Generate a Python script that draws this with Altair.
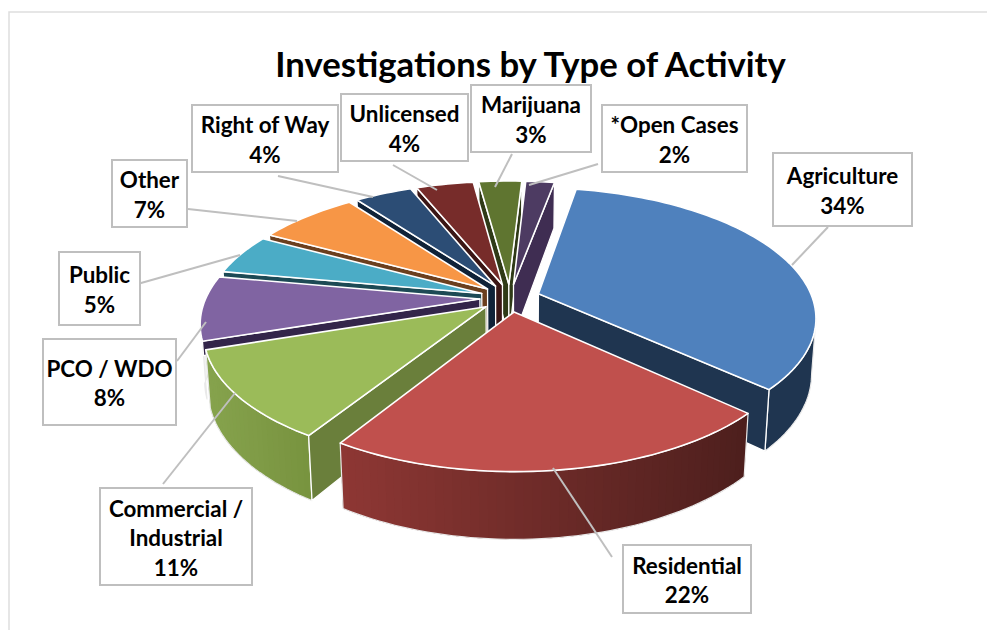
import math
import altair as alt

# Share of investigations per activity, clockwise from the first slice
categories = ["Agriculture", "Residential", "Commercial / Industrial", "PCO / WDO", "Public",
              "Other", "Right of Way", "Unlicensed", "Marijuana", "*Open Cases"]
shares = [34, 22, 11, 8, 5, 7, 4, 4, 3, 2]

top_colors = ["#4f81bd", "#c0504d", "#9bbb59", "#8064a2", "#4bacc6",
              "#f79646", "#2c4d75", "#772c2a", "#5f7530", "#4d3b62"]
cut_colors = ["#1f3550", "#4d1f1d", "#6a7f3b", "#33254a", "#1d4a55",
              "#6b3f1e", "#0f2238", "#3b1615", "#2f3a17", "#3f2d52"]
# Fraction of the full slice depth drawn for each cut face
cut_depths = [1, 1, 1, 0.25, 1, 1, 1, 1, 1, 1]
# Outer wall shading: colour at the left and right ends of each slice's visible rim
wall_ramps = [("#1f3550", "#1f3550"), ("#8e3734", "#4d1f1d"), ("#86a34d", "#78933f"),
              ("#f2f2f2", "#f2f2f2"), ("#1d4a55", "#1d4a55"), ("#6b3f1e", "#6b3f1e"),
              ("#0f2238", "#0f2238"), ("#3b1615", "#3b1615"), ("#2f3a17", "#2f3a17"),
              ("#3f2d52", "#3f2d52")]

# Perspective set-up for the tilted disc
CX, CY = 510.0, 298.0
RADIUS_X, RADIUS_Z = 274.0, 126.0
FORESHORTEN = 0.176
EXPLODE = 0.11
FIRST_ANGLE = 10.4
DEPTH = 54.5
TAPER = 0.014
FULL_W, FULL_H = 987, 630


def project(x, z):
    s = 1 / (1 + FORESHORTEN * z)
    return CX + RADIUS_X * x * s, CY - RADIUS_Z * z * s, s


def lower(pt, fraction=1.0):
    x, y, s = pt
    return x - (x - CX) * TAPER * s * fraction, y + DEPTH * s * fraction, s


def xy(pt):
    return [round(pt[0], 2), round(pt[1], 2)]


def blend(c1, c2, t):
    a = [int(c1[i:i + 2], 16) for i in (1, 3, 5)]
    b = [int(c2[i:i + 2], 16) for i in (1, 3, 5)]
    return "#%02x%02x%02x" % tuple(round(p + (q - p) * t) for p, q in zip(a, b))


def shape(ring, fill, stroke, width):
    return {"type": "Feature",
            "geometry": {"type": "Polygon", "coordinates": [[xy(p) if len(p) == 3 else p for p in ring]]},
            "properties": {"fill": fill, "stroke": stroke, "sw": width}}


def wedge_features(start, sweep, top, cut, cut_depth, ramp):
    mid = math.radians(start + sweep / 2)
    ex, ez = EXPLODE * math.sin(mid), EXPLODE * math.cos(mid)
    apex = project(ex, ez)
    steps = max(6, int(sweep / 1.5))
    rim = [project(ex + math.sin(math.radians(start + sweep * i / steps)),
                   ez + math.cos(math.radians(start + sweep * i / steps))) for i in range(steps + 1)]
    out = []
    # Outer wall: a solid base, then overlapping strips where the shade changes along the rim
    path = [rim[i] for i in range(steps) if rim[i + 1][0] < rim[i][0]]
    if path:
        path.append(rim[-1])
        outline = path + [lower(p) for p in reversed(path)] + [path[0]]
        if ramp[0] == ramp[1]:
            out.append(shape(outline, ramp[0], "#e9e9e9", 1.2))
        else:
            out.append(shape(outline, blend(ramp[0], ramp[1], 0.5), "transparent", 0))
            lo, hi = path[-1][0], path[0][0]
            for i in range(len(path) - 1):
                a, b = path[i], path[min(i + 2, len(path) - 1)]
                t = ((path[i][0] + path[i + 1][0]) / 2 - lo) / max(hi - lo, 1)
                out.append(shape([a, b, lower(b), lower(a), a], blend(ramp[0], ramp[1], t), "transparent", 0))
            out.append(shape(outline, "transparent", "#e9e9e9", 1.2))
    # Cut faces, shown only when they turn towards the viewer
    for a, b in ((apex, rim[0]), (rim[-1], apex)):
        if b[0] < a[0]:
            out.append(shape([a, b, lower(b, cut_depth), lower(a, cut_depth), a], cut, "#ffffff", 1.3))
    ring = [apex] + rim + [apex]
    out.append(shape(ring, top, "#ffffff", 1.6))
    return out, math.cos(mid)


wedges = []
angle = FIRST_ANGLE
for share, top, cut, cut_depth, ramp in zip(shares, top_colors, cut_colors, cut_depths, wall_ramps):
    sweep = share * 3.6
    wedges.append(wedge_features(angle, sweep, top, cut, cut_depth, ramp))
    angle += sweep
# Paint from the far side of the disc to the near side
wedges.sort(key=lambda w: -w[1])

# Label boxes: left, top, right, bottom
label_boxes = [(773, 153, 912, 226), (623, 545, 751, 613), (100, 488, 252, 585), (43, 339, 176, 425),
               (59, 252, 140, 325), (112, 160, 187, 227), (192, 105, 338, 172), (341, 94, 468, 161),
               (471, 85, 591, 152), (602, 105, 747, 172)]
# Leader lines from box to slice
leaders = [((828, 227), (792, 265)), ((612, 557), (553, 468)), ((163, 484), (235, 393)),
           ((177, 361), (206, 322)), ((134, 285), (240, 255)), ((188, 209), (297, 221)),
           ((278, 176), (373, 197)), ((393, 165), (437, 190)), ((512, 154), (495, 187)),
           ((598, 164), (529, 185))]
label_lines = [["Agriculture"], ["Residential"], ["Commercial /", "Industrial"], ["PCO / WDO"], ["Public"],
               ["Other"], ["Right of Way"], ["Unlicensed"], ["Marijuana"], ["*Open Cases"]]

pie_features = [f for w in wedges for f in w[0]]
line_features = [{"type": "Feature", "geometry": {"type": "LineString", "coordinates": [list(a), list(b)]},
                  "properties": {}} for a, b in leaders]
box_features = [shape([[l, t], [r, t], [r, b], [l, b], [l, t]], "#ffffff", "#bfbfbf", 2)
                for l, t, r, b in label_boxes]
frame_features = [{"type": "Feature",
                   "geometry": {"type": "LineString", "coordinates": [[FULL_W, 12], [9, 12], [9, FULL_H]]},
                   "properties": {}}]

LINE_GAP = 29.5
TEXT_SHIFT = 2.5
text_rows = []
for name, share, lines, (l, t, r, b) in zip(categories, shares, label_lines, label_boxes):
    rows = lines + [f"{share}%"]
    mid_y = (t + b) / 2 + TEXT_SHIFT
    for i, row in enumerate(rows):
        text_rows.append({"text": row, "px": (l + r) / 2, "py": mid_y + (i - (len(rows) - 1) / 2) * LINE_GAP})

screen = alt.Projection(type="identity", scale=1, translate=[0, 0])


def geo_fields(chart):
    return chart.encode(fill=alt.Fill("properties.fill:N", scale=None),
                        stroke=alt.Stroke("properties.stroke:N", scale=None),
                        strokeWidth=alt.StrokeWidth("properties.sw:Q", scale=None))


frame = alt.Chart(alt.Data(values=frame_features)).mark_geoshape(filled=False, stroke="#dedede", strokeWidth=1.5)
lines_layer = alt.Chart(alt.Data(values=line_features)).mark_geoshape(filled=False, stroke="#bfbfbf", strokeWidth=2)
pie = geo_fields(alt.Chart(alt.Data(values=pie_features)).mark_geoshape(strokeJoin="round"))
boxes = geo_fields(alt.Chart(alt.Data(values=box_features)).mark_geoshape())
labels = alt.Chart(alt.Data(values=text_rows)).mark_text(
    font="Lato", fontSize=22.4, fontWeight="bold", color="#000000", baseline="middle", align="center"
).encode(longitude="px:Q", latitude="py:Q", text="text:N")
title = alt.Chart(alt.Data(values=[{"text": "Investigations by Type of Activity", "px": 530.5, "py": 67}])).mark_text(
    font="Lato", fontSize=34.7, fontWeight="bold", color="#000000", baseline="middle", align="center"
).encode(longitude="px:Q", latitude="py:Q", text="text:N")

chart = alt.layer(frame, pie, lines_layer, boxes, labels, title).properties(
    width=FULL_W, height=FULL_H, projection=screen
).configure_view(stroke=None).properties(padding=0, autosize=alt.AutoSizeParams(type="none"), background="#ffffff")

chart.save("out.html", embed_options={"renderer": "svg", "actions": False})
